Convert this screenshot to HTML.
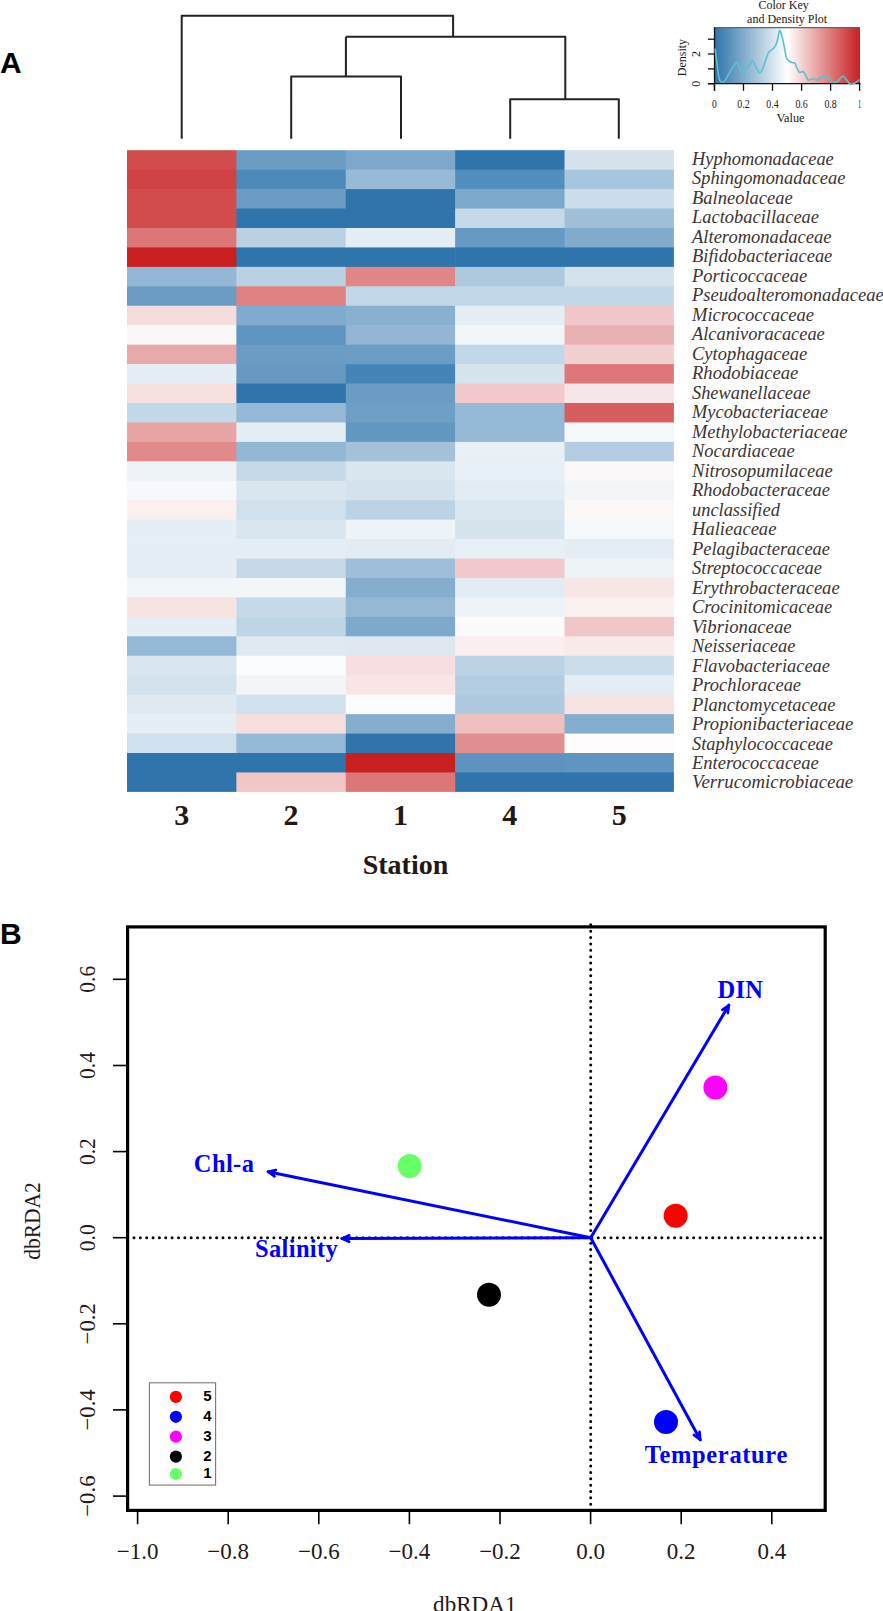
<!DOCTYPE html>
<html><head><meta charset="utf-8">
<style>
html,body{margin:0;padding:0;background:#fff;width:883px;height:1611px;overflow:hidden}
svg{display:block}
.sp{font-family:"Liberation Serif",serif;font-style:italic;font-size:18.3px;fill:#3d3432}
.stn{font-family:"Liberation Serif",serif;font-weight:bold;font-size:30px;fill:#231815}
.pl{font-family:"Liberation Sans",sans-serif;font-weight:bold;font-size:30px;fill:#000}
.ax{font-family:"Liberation Serif",serif;font-size:23px;fill:#231815}
.lab{font-family:"Liberation Serif",serif;font-weight:bold;font-size:24.5px;fill:#0000ff}
.lg{font-family:"Liberation Sans",sans-serif;font-weight:bold;font-size:15px;fill:#000}
.ck{font-family:"Liberation Serif",serif;font-size:12px;fill:#231815}
</style></head><body>
<svg width="883" height="1611" viewBox="0 0 883 1611">
<rect x="127.00" y="150.20" width="109.98" height="20.05" fill="#D24C4E"/>
<rect x="127.00" y="169.65" width="109.98" height="20.05" fill="#D04246"/>
<rect x="127.00" y="189.09" width="109.98" height="20.05" fill="#D24C4E"/>
<rect x="127.00" y="208.54" width="109.98" height="20.05" fill="#D24C4E"/>
<rect x="127.00" y="227.98" width="109.98" height="20.05" fill="#DC7677"/>
<rect x="127.00" y="247.43" width="109.98" height="20.05" fill="#C81F21"/>
<rect x="127.00" y="266.87" width="109.98" height="20.05" fill="#93B7D4"/>
<rect x="127.00" y="286.32" width="109.98" height="20.05" fill="#6A9CC4"/>
<rect x="127.00" y="305.76" width="109.98" height="20.05" fill="#F5DCDD"/>
<rect x="127.00" y="325.21" width="109.98" height="20.05" fill="#FBF7F8"/>
<rect x="127.00" y="344.65" width="109.98" height="20.05" fill="#E8A9AA"/>
<rect x="127.00" y="364.10" width="109.98" height="20.05" fill="#E6EEF5"/>
<rect x="127.00" y="383.55" width="109.98" height="20.05" fill="#F7E0E0"/>
<rect x="127.00" y="402.99" width="109.98" height="20.05" fill="#C2D7E8"/>
<rect x="127.00" y="422.44" width="109.98" height="20.05" fill="#E8A5A6"/>
<rect x="127.00" y="441.88" width="109.98" height="20.05" fill="#E08A8B"/>
<rect x="127.00" y="461.33" width="109.98" height="20.05" fill="#EEF3F7"/>
<rect x="127.00" y="480.77" width="109.98" height="20.05" fill="#F5F9FB"/>
<rect x="127.00" y="500.22" width="109.98" height="20.05" fill="#FCEFEF"/>
<rect x="127.00" y="519.66" width="109.98" height="20.05" fill="#E6EEF5"/>
<rect x="127.00" y="539.11" width="109.98" height="20.05" fill="#E6EEF5"/>
<rect x="127.00" y="558.55" width="109.98" height="20.05" fill="#E6EEF5"/>
<rect x="127.00" y="578.00" width="109.98" height="20.05" fill="#F2F6F9"/>
<rect x="127.00" y="597.45" width="109.98" height="20.05" fill="#F8E3E3"/>
<rect x="127.00" y="616.89" width="109.98" height="20.05" fill="#E6EEF5"/>
<rect x="127.00" y="636.34" width="109.98" height="20.05" fill="#94B8D6"/>
<rect x="127.00" y="655.78" width="109.98" height="20.05" fill="#D9E6EF"/>
<rect x="127.00" y="675.23" width="109.98" height="20.05" fill="#D4E2ED"/>
<rect x="127.00" y="694.67" width="109.98" height="20.05" fill="#DEE9F1"/>
<rect x="127.00" y="714.12" width="109.98" height="20.05" fill="#E6EEF5"/>
<rect x="127.00" y="733.56" width="109.98" height="20.05" fill="#D0E0EC"/>
<rect x="127.00" y="753.01" width="109.98" height="20.05" fill="#2F74AA"/>
<rect x="127.00" y="772.45" width="109.98" height="19.45" fill="#2F74AA"/>
<rect x="236.38" y="150.20" width="109.98" height="20.05" fill="#6B9DC4"/>
<rect x="236.38" y="169.65" width="109.98" height="20.05" fill="#4D8ABA"/>
<rect x="236.38" y="189.09" width="109.98" height="20.05" fill="#6B9DC4"/>
<rect x="236.38" y="208.54" width="109.98" height="20.05" fill="#2F74AA"/>
<rect x="236.38" y="227.98" width="109.98" height="20.05" fill="#BAD1E4"/>
<rect x="236.38" y="247.43" width="109.98" height="20.05" fill="#2F74AA"/>
<rect x="236.38" y="266.87" width="109.98" height="20.05" fill="#BAD1E4"/>
<rect x="236.38" y="286.32" width="109.98" height="20.05" fill="#E08283"/>
<rect x="236.38" y="305.76" width="109.98" height="20.05" fill="#80AACE"/>
<rect x="236.38" y="325.21" width="109.98" height="20.05" fill="#5F95C0"/>
<rect x="236.38" y="344.65" width="109.98" height="20.05" fill="#6A9CC4"/>
<rect x="236.38" y="364.10" width="109.98" height="20.05" fill="#6799C3"/>
<rect x="236.38" y="383.55" width="109.98" height="20.05" fill="#2F74AA"/>
<rect x="236.38" y="402.99" width="109.98" height="20.05" fill="#95B8D6"/>
<rect x="236.38" y="422.44" width="109.98" height="20.05" fill="#E6EEF5"/>
<rect x="236.38" y="441.88" width="109.98" height="20.05" fill="#93B7D4"/>
<rect x="236.38" y="461.33" width="109.98" height="20.05" fill="#C6D9E8"/>
<rect x="236.38" y="480.77" width="109.98" height="20.05" fill="#DAE6EF"/>
<rect x="236.38" y="500.22" width="109.98" height="20.05" fill="#D0E0EC"/>
<rect x="236.38" y="519.66" width="109.98" height="20.05" fill="#DAE6EF"/>
<rect x="236.38" y="539.11" width="109.98" height="20.05" fill="#E6EEF5"/>
<rect x="236.38" y="558.55" width="109.98" height="20.05" fill="#C6D9E8"/>
<rect x="236.38" y="578.00" width="109.98" height="20.05" fill="#F2F6F9"/>
<rect x="236.38" y="597.45" width="109.98" height="20.05" fill="#C6D9E8"/>
<rect x="236.38" y="616.89" width="109.98" height="20.05" fill="#BED5E6"/>
<rect x="236.38" y="636.34" width="109.98" height="20.05" fill="#DEE9F1"/>
<rect x="236.38" y="655.78" width="109.98" height="20.05" fill="#FBFCFE"/>
<rect x="236.38" y="675.23" width="109.98" height="20.05" fill="#F2F6F9"/>
<rect x="236.38" y="694.67" width="109.98" height="20.05" fill="#D0E0EC"/>
<rect x="236.38" y="714.12" width="109.98" height="20.05" fill="#F7DEDF"/>
<rect x="236.38" y="733.56" width="109.98" height="20.05" fill="#94B8D6"/>
<rect x="236.38" y="753.01" width="109.98" height="20.05" fill="#2F74AA"/>
<rect x="236.38" y="772.45" width="109.98" height="19.45" fill="#F0C6C7"/>
<rect x="345.76" y="150.20" width="109.98" height="20.05" fill="#7EA8CB"/>
<rect x="345.76" y="169.65" width="109.98" height="20.05" fill="#98BAD7"/>
<rect x="345.76" y="189.09" width="109.98" height="20.05" fill="#2F74AA"/>
<rect x="345.76" y="208.54" width="109.98" height="20.05" fill="#2F74AA"/>
<rect x="345.76" y="227.98" width="109.98" height="20.05" fill="#E6EEF5"/>
<rect x="345.76" y="247.43" width="109.98" height="20.05" fill="#2F74AA"/>
<rect x="345.76" y="266.87" width="109.98" height="20.05" fill="#E08687"/>
<rect x="345.76" y="286.32" width="109.98" height="20.05" fill="#C2D8E8"/>
<rect x="345.76" y="305.76" width="109.98" height="20.05" fill="#8AB0CF"/>
<rect x="345.76" y="325.21" width="109.98" height="20.05" fill="#92B6D3"/>
<rect x="345.76" y="344.65" width="109.98" height="20.05" fill="#6C9DC4"/>
<rect x="345.76" y="364.10" width="109.98" height="20.05" fill="#4584B6"/>
<rect x="345.76" y="383.55" width="109.98" height="20.05" fill="#6A9CC4"/>
<rect x="345.76" y="402.99" width="109.98" height="20.05" fill="#6E9FC5"/>
<rect x="345.76" y="422.44" width="109.98" height="20.05" fill="#6297C0"/>
<rect x="345.76" y="441.88" width="109.98" height="20.05" fill="#A3C2DA"/>
<rect x="345.76" y="461.33" width="109.98" height="20.05" fill="#D9E6EF"/>
<rect x="345.76" y="480.77" width="109.98" height="20.05" fill="#D3E2ED"/>
<rect x="345.76" y="500.22" width="109.98" height="20.05" fill="#BCD3E5"/>
<rect x="345.76" y="519.66" width="109.98" height="20.05" fill="#EEF3F7"/>
<rect x="345.76" y="539.11" width="109.98" height="20.05" fill="#E3EBF3"/>
<rect x="345.76" y="558.55" width="109.98" height="20.05" fill="#9EBED9"/>
<rect x="345.76" y="578.00" width="109.98" height="20.05" fill="#84ADCE"/>
<rect x="345.76" y="597.45" width="109.98" height="20.05" fill="#94B8D5"/>
<rect x="345.76" y="616.89" width="109.98" height="20.05" fill="#7FA9CC"/>
<rect x="345.76" y="636.34" width="109.98" height="20.05" fill="#DDE8F0"/>
<rect x="345.76" y="655.78" width="109.98" height="20.05" fill="#F7DEE0"/>
<rect x="345.76" y="675.23" width="109.98" height="20.05" fill="#F9E5E6"/>
<rect x="345.76" y="694.67" width="109.98" height="20.05" fill="#FBFCFE"/>
<rect x="345.76" y="714.12" width="109.98" height="20.05" fill="#84ADCE"/>
<rect x="345.76" y="733.56" width="109.98" height="20.05" fill="#2F74AA"/>
<rect x="345.76" y="753.01" width="109.98" height="20.05" fill="#C81F21"/>
<rect x="345.76" y="772.45" width="109.98" height="19.45" fill="#DC7677"/>
<rect x="455.14" y="150.20" width="109.98" height="20.05" fill="#2F74AA"/>
<rect x="455.14" y="169.65" width="109.98" height="20.05" fill="#528FBE"/>
<rect x="455.14" y="189.09" width="109.98" height="20.05" fill="#7CA8CB"/>
<rect x="455.14" y="208.54" width="109.98" height="20.05" fill="#C6D9E8"/>
<rect x="455.14" y="227.98" width="109.98" height="20.05" fill="#6699C3"/>
<rect x="455.14" y="247.43" width="109.98" height="20.05" fill="#2F74AA"/>
<rect x="455.14" y="266.87" width="109.98" height="20.05" fill="#ADC9DE"/>
<rect x="455.14" y="286.32" width="109.98" height="20.05" fill="#C2D8E8"/>
<rect x="455.14" y="305.76" width="109.98" height="20.05" fill="#E6EEF5"/>
<rect x="455.14" y="325.21" width="109.98" height="20.05" fill="#F2F6F9"/>
<rect x="455.14" y="344.65" width="109.98" height="20.05" fill="#C2D8E8"/>
<rect x="455.14" y="364.10" width="109.98" height="20.05" fill="#D6E4EE"/>
<rect x="455.14" y="383.55" width="109.98" height="20.05" fill="#F3CACB"/>
<rect x="455.14" y="402.99" width="109.98" height="20.05" fill="#96B9D6"/>
<rect x="455.14" y="422.44" width="109.98" height="20.05" fill="#96B9D6"/>
<rect x="455.14" y="441.88" width="109.98" height="20.05" fill="#E9F0F6"/>
<rect x="455.14" y="461.33" width="109.98" height="20.05" fill="#E8F0F7"/>
<rect x="455.14" y="480.77" width="109.98" height="20.05" fill="#E3EBF3"/>
<rect x="455.14" y="500.22" width="109.98" height="20.05" fill="#DBE7F0"/>
<rect x="455.14" y="519.66" width="109.98" height="20.05" fill="#D6E4EE"/>
<rect x="455.14" y="539.11" width="109.98" height="20.05" fill="#E8F0F7"/>
<rect x="455.14" y="558.55" width="109.98" height="20.05" fill="#F3CACB"/>
<rect x="455.14" y="578.00" width="109.98" height="20.05" fill="#E3EBF3"/>
<rect x="455.14" y="597.45" width="109.98" height="20.05" fill="#EEF3F7"/>
<rect x="455.14" y="616.89" width="109.98" height="20.05" fill="#FDFAFB"/>
<rect x="455.14" y="636.34" width="109.98" height="20.05" fill="#FBEEEE"/>
<rect x="455.14" y="655.78" width="109.98" height="20.05" fill="#BCD3E5"/>
<rect x="455.14" y="675.23" width="109.98" height="20.05" fill="#B5CDE2"/>
<rect x="455.14" y="694.67" width="109.98" height="20.05" fill="#AFCAE0"/>
<rect x="455.14" y="714.12" width="109.98" height="20.05" fill="#F0BFC0"/>
<rect x="455.14" y="733.56" width="109.98" height="20.05" fill="#E08E8F"/>
<rect x="455.14" y="753.01" width="109.98" height="20.05" fill="#5E93C0"/>
<rect x="455.14" y="772.45" width="109.98" height="19.45" fill="#2F74AA"/>
<rect x="564.52" y="150.20" width="109.38" height="20.05" fill="#D4E2ED"/>
<rect x="564.52" y="169.65" width="109.38" height="20.05" fill="#A7C5DC"/>
<rect x="564.52" y="189.09" width="109.38" height="20.05" fill="#CBDDEA"/>
<rect x="564.52" y="208.54" width="109.38" height="20.05" fill="#A0BFD9"/>
<rect x="564.52" y="227.98" width="109.38" height="20.05" fill="#82ACCE"/>
<rect x="564.52" y="247.43" width="109.38" height="20.05" fill="#2F74AA"/>
<rect x="564.52" y="266.87" width="109.38" height="20.05" fill="#D4E2ED"/>
<rect x="564.52" y="286.32" width="109.38" height="20.05" fill="#C2D8E8"/>
<rect x="564.52" y="305.76" width="109.38" height="20.05" fill="#F0C6C8"/>
<rect x="564.52" y="325.21" width="109.38" height="20.05" fill="#E9B1B3"/>
<rect x="564.52" y="344.65" width="109.38" height="20.05" fill="#F2D0D1"/>
<rect x="564.52" y="364.10" width="109.38" height="20.05" fill="#DE7779"/>
<rect x="564.52" y="383.55" width="109.38" height="20.05" fill="#F6E6E7"/>
<rect x="564.52" y="402.99" width="109.38" height="20.05" fill="#D55E61"/>
<rect x="564.52" y="422.44" width="109.38" height="20.05" fill="#F6F9FB"/>
<rect x="564.52" y="441.88" width="109.38" height="20.05" fill="#B5CDE2"/>
<rect x="564.52" y="461.33" width="109.38" height="20.05" fill="#FCF7F8"/>
<rect x="564.52" y="480.77" width="109.38" height="20.05" fill="#F2F6F9"/>
<rect x="564.52" y="500.22" width="109.38" height="20.05" fill="#FCF8F8"/>
<rect x="564.52" y="519.66" width="109.38" height="20.05" fill="#F6F9FB"/>
<rect x="564.52" y="539.11" width="109.38" height="20.05" fill="#E4ECF4"/>
<rect x="564.52" y="558.55" width="109.38" height="20.05" fill="#EEF3F7"/>
<rect x="564.52" y="578.00" width="109.38" height="20.05" fill="#F8E6E7"/>
<rect x="564.52" y="597.45" width="109.38" height="20.05" fill="#FBF0F0"/>
<rect x="564.52" y="616.89" width="109.38" height="20.05" fill="#F0C6C8"/>
<rect x="564.52" y="636.34" width="109.38" height="20.05" fill="#F9EAEA"/>
<rect x="564.52" y="655.78" width="109.38" height="20.05" fill="#CBDDEA"/>
<rect x="564.52" y="675.23" width="109.38" height="20.05" fill="#E4ECF4"/>
<rect x="564.52" y="694.67" width="109.38" height="20.05" fill="#F8E3E3"/>
<rect x="564.52" y="714.12" width="109.38" height="20.05" fill="#84ADCE"/>
<rect x="564.52" y="733.56" width="109.38" height="20.05" fill="#FEFCFD"/>
<rect x="564.52" y="753.01" width="109.38" height="20.05" fill="#5F95C0"/>
<rect x="564.52" y="772.45" width="109.38" height="19.45" fill="#2F74AA"/>
<text x="692" y="164.80" class="sp" textLength="141.74" lengthAdjust="spacingAndGlyphs">Hyphomonadaceae</text>
<text x="692" y="184.29" class="sp" textLength="153.42" lengthAdjust="spacingAndGlyphs">Sphingomonadaceae</text>
<text x="692" y="203.78" class="sp" textLength="100.71" lengthAdjust="spacingAndGlyphs">Balneolaceae</text>
<text x="692" y="223.27" class="sp" textLength="127.01" lengthAdjust="spacingAndGlyphs">Lactobacillaceae</text>
<text x="692" y="242.76" class="sp" textLength="139.42" lengthAdjust="spacingAndGlyphs">Alteromonadaceae</text>
<text x="692" y="262.25" class="sp" textLength="140.3" lengthAdjust="spacingAndGlyphs">Bifidobacteriaceae</text>
<text x="692" y="281.74" class="sp" textLength="115.1" lengthAdjust="spacingAndGlyphs">Porticoccaceae</text>
<text x="692" y="301.23" class="sp" textLength="191.71" lengthAdjust="spacingAndGlyphs">Pseudoalteromonadaceae</text>
<text x="692" y="320.72" class="sp" textLength="121.92" lengthAdjust="spacingAndGlyphs">Micrococcaceae</text>
<text x="692" y="340.21" class="sp" textLength="132.77" lengthAdjust="spacingAndGlyphs">Alcanivoracaceae</text>
<text x="692" y="359.70" class="sp" textLength="115.13" lengthAdjust="spacingAndGlyphs">Cytophagaceae</text>
<text x="692" y="379.19" class="sp" textLength="106.29" lengthAdjust="spacingAndGlyphs">Rhodobiaceae</text>
<text x="692" y="398.68" class="sp" textLength="118.38" lengthAdjust="spacingAndGlyphs">Shewanellaceae</text>
<text x="692" y="418.17" class="sp" textLength="135.82" lengthAdjust="spacingAndGlyphs">Mycobacteriaceae</text>
<text x="692" y="437.66" class="sp" textLength="155.42" lengthAdjust="spacingAndGlyphs">Methylobacteriaceae</text>
<text x="692" y="457.15" class="sp" textLength="102.78" lengthAdjust="spacingAndGlyphs">Nocardiaceae</text>
<text x="692" y="476.64" class="sp" textLength="140.67" lengthAdjust="spacingAndGlyphs">Nitrosopumilaceae</text>
<text x="692" y="496.13" class="sp" textLength="137.97" lengthAdjust="spacingAndGlyphs">Rhodobacteraceae</text>
<text x="692" y="515.62" class="sp" textLength="87.84" lengthAdjust="spacingAndGlyphs">unclassified</text>
<text x="692" y="535.11" class="sp" textLength="84.36" lengthAdjust="spacingAndGlyphs">Halieaceae</text>
<text x="692" y="554.60" class="sp" textLength="137.97" lengthAdjust="spacingAndGlyphs">Pelagibacteraceae</text>
<text x="692" y="574.09" class="sp" textLength="130.06" lengthAdjust="spacingAndGlyphs">Streptococcaceae</text>
<text x="692" y="593.58" class="sp" textLength="147.64" lengthAdjust="spacingAndGlyphs">Erythrobacteraceae</text>
<text x="692" y="613.07" class="sp" textLength="140.13" lengthAdjust="spacingAndGlyphs">Crocinitomicaceae</text>
<text x="692" y="632.56" class="sp" textLength="99.65" lengthAdjust="spacingAndGlyphs">Vibrionaceae</text>
<text x="692" y="652.05" class="sp" textLength="103.46" lengthAdjust="spacingAndGlyphs">Neisseriaceae</text>
<text x="692" y="671.54" class="sp" textLength="137.97" lengthAdjust="spacingAndGlyphs">Flavobacteriaceae</text>
<text x="692" y="691.03" class="sp" textLength="109.07" lengthAdjust="spacingAndGlyphs">Prochloraceae</text>
<text x="692" y="710.52" class="sp" textLength="143.31" lengthAdjust="spacingAndGlyphs">Planctomycetaceae</text>
<text x="692" y="730.01" class="sp" textLength="161.15" lengthAdjust="spacingAndGlyphs">Propionibacteriaceae</text>
<text x="692" y="749.50" class="sp" textLength="141.0" lengthAdjust="spacingAndGlyphs">Staphylococcaceae</text>
<text x="692" y="768.99" class="sp" textLength="126.8" lengthAdjust="spacingAndGlyphs">Enterococcaceae</text>
<text x="692" y="788.48" class="sp" textLength="161.13" lengthAdjust="spacingAndGlyphs">Verrucomicrobiaceae</text>
<path d="M181.7,138.8 V15.85 H453.1 V36.8 M345.9,36.8 H565.3 V99.2 M510.2,138.8 V99.2 H618.8 V138.8 M345.9,36.8 V76.5 M291.2,138.8 V76.5 H401 V138.8" fill="none" stroke="#222" stroke-width="2" stroke-linejoin="round"/>
<text x="181.7" y="824.9" class="stn" text-anchor="middle">3</text>
<text x="291.1" y="824.9" class="stn" text-anchor="middle">2</text>
<text x="400.4" y="824.9" class="stn" text-anchor="middle">1</text>
<text x="509.8" y="824.9" class="stn" text-anchor="middle">4</text>
<text x="619.2" y="824.9" class="stn" text-anchor="middle">5</text>
<text x="405.5" y="874.3" class="stn" style="font-size:28px" text-anchor="middle">Station</text>
<text x="0" y="72.6" class="pl">A</text>
<text x="0" y="944.2" class="pl">B</text>
<defs><linearGradient id="ckg" x1="0" y1="0" x2="1" y2="0"><stop offset="0" stop-color="#2E74AA"/><stop offset="0.5" stop-color="#FFFFFF"/><stop offset="1" stop-color="#C81F22"/></linearGradient></defs>
<rect x="714.5" y="27.7" width="145.5" height="56.0" fill="url(#ckg)"/>
<line x1="714.5" y1="27.7" x2="860.0" y2="27.7" stroke="#666" stroke-width="1.2"/>
<line x1="714.5" y1="27.2" x2="714.5" y2="90.8" stroke="#111" stroke-width="1.3"/>
<line x1="707.9" y1="83.7" x2="860.6" y2="83.7" stroke="#111" stroke-width="1.3"/>
<line x1="707.9" y1="83.8" x2="714.5" y2="83.8" stroke="#111" stroke-width="1.3"/>
<line x1="707.9" y1="68.9" x2="714.5" y2="68.9" stroke="#111" stroke-width="1.3"/>
<line x1="707.9" y1="54.0" x2="714.5" y2="54.0" stroke="#111" stroke-width="1.3"/>
<line x1="707.9" y1="39.2" x2="714.5" y2="39.2" stroke="#111" stroke-width="1.3"/>
<line x1="714.5" y1="83.7" x2="714.5" y2="90.8" stroke="#111" stroke-width="1.3"/>
<text x="714.5" y="107.7" class="ck" text-anchor="middle" textLength="4.8" lengthAdjust="spacingAndGlyphs">0</text>
<line x1="743.5" y1="83.7" x2="743.5" y2="90.8" stroke="#111" stroke-width="1.3"/>
<text x="743.5" y="107.7" class="ck" text-anchor="middle" textLength="12.4" lengthAdjust="spacingAndGlyphs">0.2</text>
<line x1="772.5" y1="83.7" x2="772.5" y2="90.8" stroke="#111" stroke-width="1.3"/>
<text x="772.5" y="107.7" class="ck" text-anchor="middle" textLength="12.4" lengthAdjust="spacingAndGlyphs">0.4</text>
<line x1="801.6" y1="83.7" x2="801.6" y2="90.8" stroke="#111" stroke-width="1.3"/>
<text x="801.6" y="107.7" class="ck" text-anchor="middle" textLength="12.4" lengthAdjust="spacingAndGlyphs">0.6</text>
<line x1="830.6" y1="83.7" x2="830.6" y2="90.8" stroke="#111" stroke-width="1.3"/>
<text x="830.6" y="107.7" class="ck" text-anchor="middle" textLength="12.4" lengthAdjust="spacingAndGlyphs">0.8</text>
<line x1="859.6" y1="83.7" x2="859.6" y2="90.8" stroke="#111" stroke-width="1.3"/>
<text x="859.6" y="107.7" class="ck" text-anchor="middle" textLength="3.2" lengthAdjust="spacingAndGlyphs">1</text>
<text x="700.4" y="83.8" class="ck" text-anchor="middle" transform="rotate(-90 700.4 83.8)">0</text>
<text x="700.4" y="54.0" class="ck" text-anchor="middle" transform="rotate(-90 700.4 54.0)">2</text>
<text x="686.5" y="57.6" class="ck" text-anchor="middle" transform="rotate(-90 686.5 57.6)">Density</text>
<text x="790.5" y="121.6" class="ck" text-anchor="middle" textLength="28" lengthAdjust="spacingAndGlyphs">Value</text>
<text x="783.6" y="8.5" class="ck" text-anchor="middle">Color Key</text>
<text x="787.1" y="22.5" class="ck" text-anchor="middle">and Density Plot</text>
<path d="M715.1,48.7 C715.38,50.92 716.22,57.45 716.8,62 C717.38,66.55 717.98,72.77 718.6,76 C719.22,79.23 719.83,80.43 720.5,81.4 C721.17,82.37 721.88,81.87 722.6,81.8 C723.32,81.73 723.57,82.63 724.8,81 C726.03,79.37 728.03,75.02 730,72 C731.97,68.98 734.67,62.85 736.6,62.9 C738.53,62.95 740.13,71.68 741.6,72.3 C743.07,72.92 744.35,67.33 745.4,66.6 C746.45,65.87 746.80,68.88 747.9,67.9 C749.00,66.92 750.73,61.02 752,60.7 C753.27,60.38 754.32,64.07 755.5,66 C756.68,67.93 758.08,71.47 759.1,72.3 C760.12,73.13 760.62,72.72 761.6,71 C762.58,69.28 763.87,65.02 765,62 C766.13,58.98 767.23,54.98 768.4,52.9 C769.57,50.82 770.85,50.63 772,49.5 C773.15,48.37 774.38,47.68 775.3,46.1 C776.22,44.52 776.78,42.57 777.5,40 C778.22,37.43 778.82,31.18 779.6,30.7 C780.38,30.22 781.38,34.22 782.2,37.1 C783.02,39.98 783.77,44.48 784.5,48 C785.23,51.52 785.68,55.95 786.6,58.2 C787.52,60.45 789.03,60.75 790,61.5 C790.97,62.25 791.57,62.40 792.4,62.7 C793.23,63.00 794.23,62.42 795,63.3 C795.77,64.18 796.27,66.50 797,68 C797.73,69.50 798.35,71.68 799.4,72.3 C800.45,72.92 802.20,71.08 803.3,71.7 C804.40,72.32 805.15,74.62 806,76 C806.85,77.38 807.25,79.55 808.4,80 C809.55,80.45 811.40,78.70 812.9,78.7 C814.40,78.70 816.02,80.28 817.4,80 C818.78,79.72 819.60,77.65 821.2,77 C822.80,76.35 825.18,75.28 827,76.1 C828.82,76.92 830.30,81.03 832.1,81.9 C833.90,82.77 835.98,82.27 837.8,81.3 C839.62,80.33 841.08,75.75 843,76.1 C844.92,76.45 847.60,82.12 849.3,83.4 C851.00,84.68 851.48,84.43 853.2,83.8 C854.92,83.17 858.53,80.30 859.6,79.6" fill="none" stroke="#5CC0D0" stroke-width="1.6" stroke-linejoin="round"/>
<line x1="590.7" y1="924.83" x2="590.7" y2="1510.4" stroke="#000" stroke-width="3" stroke-linecap="round" stroke-dasharray="0 6.367"/>
<line x1="127.6" y1="1237.7" x2="825.2" y2="1237.7" stroke="#000" stroke-width="3" stroke-linecap="round" stroke-dasharray="0 6.36"/>
<rect x="127.6" y="926.9" width="697.6" height="583.5000000000001" fill="none" stroke="#000" stroke-width="3.2"/>
<line x1="113" y1="979.3" x2="127.6" y2="979.3" stroke="#000" stroke-width="1.6"/>
<text x="95" y="979.3" class="ax" style="font-size:23.5px" text-anchor="middle" textLength="26.9" lengthAdjust="spacingAndGlyphs" transform="rotate(-90 95 979.3)">0.6</text>
<line x1="113" y1="1065.5" x2="127.6" y2="1065.5" stroke="#000" stroke-width="1.6"/>
<text x="95" y="1065.5" class="ax" style="font-size:23.5px" text-anchor="middle" textLength="26.9" lengthAdjust="spacingAndGlyphs" transform="rotate(-90 95 1065.5)">0.4</text>
<line x1="113" y1="1151.6" x2="127.6" y2="1151.6" stroke="#000" stroke-width="1.6"/>
<text x="95" y="1151.6" class="ax" style="font-size:23.5px" text-anchor="middle" textLength="26.9" lengthAdjust="spacingAndGlyphs" transform="rotate(-90 95 1151.6)">0.2</text>
<line x1="113" y1="1237.7" x2="127.6" y2="1237.7" stroke="#000" stroke-width="1.6"/>
<text x="95" y="1237.7" class="ax" style="font-size:23.5px" text-anchor="middle" textLength="26.9" lengthAdjust="spacingAndGlyphs" transform="rotate(-90 95 1237.7)">0.0</text>
<line x1="113" y1="1323.8" x2="127.6" y2="1323.8" stroke="#000" stroke-width="1.6"/>
<text x="95" y="1323.8" class="ax" style="font-size:23.5px" text-anchor="middle" textLength="41.2" lengthAdjust="spacingAndGlyphs" transform="rotate(-90 95 1323.8)">−0.2</text>
<line x1="113" y1="1409.9" x2="127.6" y2="1409.9" stroke="#000" stroke-width="1.6"/>
<text x="95" y="1409.9" class="ax" style="font-size:23.5px" text-anchor="middle" textLength="41.2" lengthAdjust="spacingAndGlyphs" transform="rotate(-90 95 1409.9)">−0.4</text>
<line x1="113" y1="1496.1" x2="127.6" y2="1496.1" stroke="#000" stroke-width="1.6"/>
<text x="95" y="1496.1" class="ax" style="font-size:23.5px" text-anchor="middle" textLength="41.2" lengthAdjust="spacingAndGlyphs" transform="rotate(-90 95 1496.1)">−0.6</text>
<line x1="137.6" y1="1510.4" x2="137.6" y2="1524.2" stroke="#000" stroke-width="1.6"/>
<text x="137.6" y="1559" class="ax" text-anchor="middle">−1.0</text>
<line x1="228.2" y1="1510.4" x2="228.2" y2="1524.2" stroke="#000" stroke-width="1.6"/>
<text x="228.2" y="1559" class="ax" text-anchor="middle">−0.8</text>
<line x1="318.8" y1="1510.4" x2="318.8" y2="1524.2" stroke="#000" stroke-width="1.6"/>
<text x="318.8" y="1559" class="ax" text-anchor="middle">−0.6</text>
<line x1="409.4" y1="1510.4" x2="409.4" y2="1524.2" stroke="#000" stroke-width="1.6"/>
<text x="409.4" y="1559" class="ax" text-anchor="middle">−0.4</text>
<line x1="500.0" y1="1510.4" x2="500.0" y2="1524.2" stroke="#000" stroke-width="1.6"/>
<text x="500.0" y="1559" class="ax" text-anchor="middle">−0.2</text>
<line x1="590.6" y1="1510.4" x2="590.6" y2="1524.2" stroke="#000" stroke-width="1.6"/>
<text x="590.6" y="1559" class="ax" text-anchor="middle">0.0</text>
<line x1="681.2" y1="1510.4" x2="681.2" y2="1524.2" stroke="#000" stroke-width="1.6"/>
<text x="681.2" y="1559" class="ax" text-anchor="middle">0.2</text>
<line x1="771.8" y1="1510.4" x2="771.8" y2="1524.2" stroke="#000" stroke-width="1.6"/>
<text x="771.8" y="1559" class="ax" text-anchor="middle">0.4</text>
<text x="474.8" y="1611.5" class="ax" style="font-size:24px" text-anchor="middle" textLength="83.4" lengthAdjust="spacingAndGlyphs">dbRDA1</text>
<text x="39.9" y="1221" class="ax" style="font-size:24px" text-anchor="middle" textLength="77.5" lengthAdjust="spacingAndGlyphs" transform="rotate(-90 39.9 1221)">dbRDA2</text>
<line x1="590.7" y1="1237.7" x2="728.88" y2="1005.20" stroke="#0000FF" stroke-width="3" stroke-linecap="round"/>
<polygon points="722.35,1009.82 728.88,1005.20 727.95,1013.15 727.35,1007.78" fill="#0000FF" stroke="#0000FF" stroke-width="2.6" stroke-linejoin="round"/>
<line x1="590.7" y1="1237.7" x2="268.07" y2="1171.68" stroke="#0000FF" stroke-width="3" stroke-linecap="round"/>
<polygon points="274.58,1176.33 268.07,1171.68 275.88,1169.96 271.01,1172.28" fill="#0000FF" stroke="#0000FF" stroke-width="2.6" stroke-linejoin="round"/>
<line x1="590.7" y1="1237.7" x2="341.90" y2="1238.59" stroke="#0000FF" stroke-width="3" stroke-linecap="round"/>
<polygon points="349.22,1241.82 341.90,1238.59 349.20,1235.31 344.90,1238.58" fill="#0000FF" stroke="#0000FF" stroke-width="2.6" stroke-linejoin="round"/>
<line x1="590.7" y1="1237.7" x2="700.23" y2="1439.77" stroke="#0000FF" stroke-width="3" stroke-linecap="round"/>
<polygon points="699.61,1431.79 700.23,1439.77 693.89,1434.89 698.80,1437.13" fill="#0000FF" stroke="#0000FF" stroke-width="2.6" stroke-linejoin="round"/>
<circle cx="715.4" cy="1087.4" r="12" fill="#FF00FF"/>
<circle cx="675.7" cy="1215.8" r="12" fill="#FF0000"/>
<circle cx="409.7" cy="1165.9" r="12" fill="#66FF66"/>
<circle cx="489.0" cy="1294.8" r="12" fill="#000000"/>
<circle cx="666.0" cy="1421.9" r="12" fill="#0000FF"/>
<text x="717.5" y="997.7" class="lab" letter-spacing="0.25">DIN</text>
<text x="193.8" y="1172.2" class="lab" letter-spacing="0.4">Chl-a</text>
<text x="255" y="1257.4" class="lab" letter-spacing="0.35">Salinity</text>
<text x="644.8" y="1462.8" class="lab" letter-spacing="0.64">Temperature</text>
<rect x="149.4" y="1382.8" width="66.2" height="102.3" fill="#fff" stroke="#777" stroke-width="1.1"/>
<circle cx="175.9" cy="1396.9" r="6.1" fill="#FF0000"/>
<text x="211.5" y="1401.1" class="lg" text-anchor="end">5</text>
<circle cx="175.9" cy="1416.8" r="6.1" fill="#0000FF"/>
<text x="211.5" y="1421.0" class="lg" text-anchor="end">4</text>
<circle cx="175.9" cy="1436.7" r="6.1" fill="#FF00FF"/>
<text x="211.5" y="1440.9" class="lg" text-anchor="end">3</text>
<circle cx="175.9" cy="1456.6" r="6.1" fill="#000000"/>
<text x="211.5" y="1460.8" class="lg" text-anchor="end">2</text>
<circle cx="175.9" cy="1474.0" r="6.1" fill="#66FF66"/>
<text x="211.5" y="1478.2" class="lg" text-anchor="end">1</text>
</svg>
</body></html>
